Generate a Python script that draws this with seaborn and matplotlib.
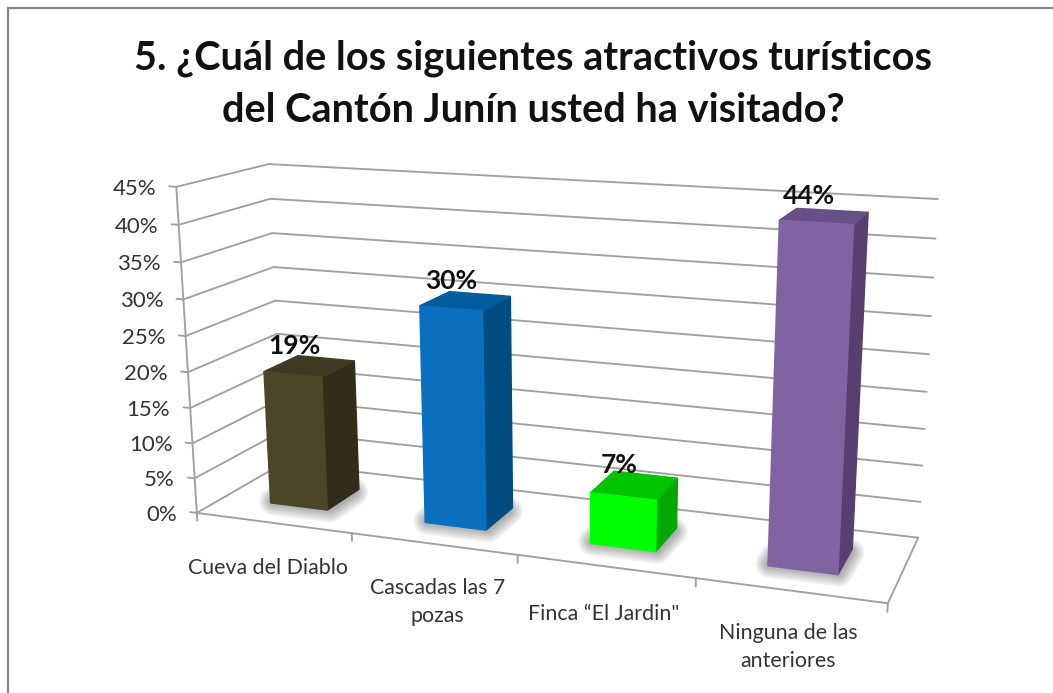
import matplotlib
matplotlib.use('Agg')
import matplotlib.pyplot as plt
import numpy as np
import pandas as pd
import seaborn as sns
from matplotlib.patches import Polygon
from matplotlib.transforms import IdentityTransform, Transform

W, H = 1053, 693

# data
categories = ['Cueva del Diablo', 'Cascadas las 7\npozas', 'Finca “El Jardin"', 'Ninguna de las\nanteriores']
values = [19, 30, 7, 44]
value_labels = ['19%', '30%', '7%', '44%']
y_ticks = [0, 5, 10, 15, 20, 25, 30, 35, 40, 45]
y_tick_labels = ['0%', '5%', '10%', '15%', '20%', '25%', '30%', '35%', '40%', '45%']
title = '5. ¿Cuál de los siguientes atractivos turísticos\ndel Cantón Junín usted ha visitado?'

front_colors = ['#4B4529', '#0A6FBF', '#00FF00', '#8064A2']
side_colors = ['#312D1A', '#024C82', '#00A800', '#57406F']
top_colors = ['#3E3921', '#035C9E', '#00C400', '#665085']

# label nudges in pixels
label_dx = [-5, 4, -1, -2]
label_dy = [-35, -34, -38, -33]

GRID = '#A0A0A0'
X0, X1 = -0.5, 3.5

# box corners (x, value, depth) -> pixel in the picture, gives the perspective
model_pts = [(X0, 0, 0), (X0, 45, 0), (X0, 0, 1), (X0, 45, 1), (X1, 0, 1), (X1, 45, 1), (X1, 0, 0)]
pixel_pts = [(196, 513), (177, 187), (284, 463), (268, 164), (918, 538), (938, 199), (888, 603)]

rows = []
for (x, y, z), (u, v) in zip(model_pts, pixel_pts):
    rows.append([x, y, z, 1, 0, 0, 0, 0, -u * x, -u * y, -u * z, -u])
    rows.append([0, 0, 0, 0, x, y, z, 1, -v * x, -v * y, -v * z, -v])
P = np.linalg.svd(np.array(rows, dtype=float))[2][-1].reshape(3, 4)


def project(x, y, z):
    x, y, z = np.broadcast_arrays(x, y, z)
    q = P @ np.vstack([x, y, z, np.ones_like(x)]).astype(float)
    return q[0] / q[2], H - q[1] / q[2]


class PlaneTransform(Transform):
    # chart plane at a fixed depth -> display pixels
    input_dims = 2
    output_dims = 2

    def __init__(self, z):
        super().__init__()
        self.z = z

    def transform_non_affine(self, values):
        values = np.asarray(values, dtype=float)
        return np.column_stack(project(values[:, 0], values[:, 1], self.z))


px = IdentityTransform()

sns.set_theme(style='white')
plt.rcParams['font.family'] = ['Lato', 'DejaVu Sans']

fig = plt.figure(figsize=(W / 100, H / 100), dpi=100)
ax = fig.add_axes([0, 0, 1, 1])

df = pd.DataFrame({'categoria': categories, 'valor': values})
BAR_W = 0.375
Z0, Z1 = 0.30, 0.70
sns.barplot(data=df, x='categoria', y='valor', hue='categoria', palette=front_colors,
            width=BAR_W, legend=False, saturation=1, ax=ax)
ax.set_xlim(X0, X1)
ax.set_ylim(0, 45)
ax.axis('off')


def line3d(a, b, **kw):
    xs, ys = project(*np.array([a, b]).T)
    ax.plot(xs, ys, transform=px, color=GRID, lw=1.35, clip_on=False, zorder=1, **kw)


# walls and floor
for t in y_ticks:
    line3d((X0, t, 0), (X0, t, 1))
    line3d((X0, t, 1), (X1, t, 1))
    line3d((X0 - 0.045, t, 0), (X0, t, 0))
line3d((X0, 0, 0), (X0, 45, 0))
line3d((X0, 0, 0), (X1, 0, 0))
line3d((X1, 0, 0), (X1, 0, 1))
for i in range(5):
    line3d((X0 + i, 0, 0), (X0 + i, -1.1, 0))

for t, lab in zip(y_ticks, y_tick_labels):
    ax.annotate(lab, xy=(X0, t), xycoords=PlaneTransform(0), xytext=(-20, -2), textcoords='offset pixels',
                ha='right', va='center', fontsize=16, color='#333333')


def quad(pts, color, zorder=3, alpha=1, lw=1.0):
    xs, ys = project(*np.array(pts).T)
    ax.add_patch(Polygon(np.column_stack([xs, ys]), closed=True, transform=px, facecolor=color,
                         edgecolor=color, lw=lw, alpha=alpha,
                         joinstyle='round', clip_on=False, zorder=zorder))


for i, bar in enumerate(ax.patches):
    x0 = bar.get_x()
    x1 = x0 + bar.get_width()
    v = bar.get_height()

    # soft shadow on the floor, thick round strokes fade out
    for lw in np.linspace(20, 2, 8):
        quad([(x0, 0, Z0 + 0.03), (x1, 0, Z0 + 0.03), (x1, 0, Z1 - 0.06), (x0, 0, Z1 - 0.06)],
             '#3A3A3A', zorder=2, alpha=0.07, lw=lw)

    quad([(x1, 0, Z0), (x1, 0, Z1), (x1, v, Z1), (x1, v, Z0)], side_colors[i])
    quad([(x0, v, Z0), (x1, v, Z0), (x1, v, Z1), (x0, v, Z1)], top_colors[i])
    bar.set_transform(PlaneTransform(Z0))
    bar.set_zorder(4)
    bar.set_clip_on(False)
    bar.set_edgecolor(front_colors[i])
    bar.set_linewidth(1.0)

    ax.annotate(value_labels[i], xy=(bar.get_x() + bar.get_width() / 2, v), xycoords=PlaneTransform(0.5),
                xytext=(-15, 20), textcoords='offset pixels', ha='center', va='center',
                fontsize=19, fontweight='bold', color='#111111', zorder=6)

    ax.annotate(categories[i], xy=(i, 0), xycoords=PlaneTransform(0), xytext=(label_dx[i], label_dy[i]),
                textcoords='offset pixels', ha='center', va='top', fontsize=15.4,
                color='#333333', linespacing=1.5, zorder=6)

fig.text(533 / W, 1 - 84 / H, title, ha='center', va='center', fontsize=28.6, fontweight='bold',
         color='#111111', linespacing=1.5)

# chart frame, open on the right and at the bottom
for a, b in [((8, 8), (W, 8)), ((8, 8), (8, H))]:
    fig.add_artist(plt.Line2D([a[0] / W, b[0] / W], [1 - a[1] / H, 1 - b[1] / H], color='#868686', lw=1.6))

fig.savefig('out.png', dpi=100)
